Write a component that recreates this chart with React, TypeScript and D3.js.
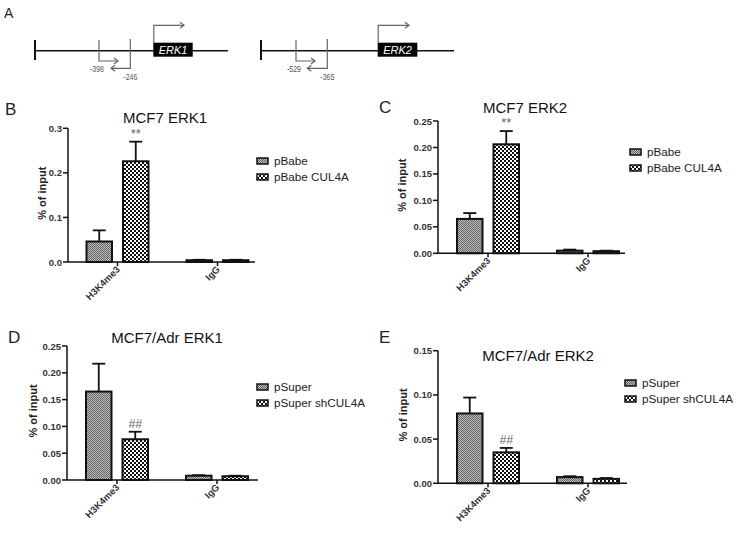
import React from "react";
import * as d3 from "d3";

// ---------- Data ----------
const categories = ["H3K4me3", "IgG"];

const genes = ["ERK1", "ERK2"];
const fwdPrimerLabels = ["-398", "-529"];
const revPrimerLabels = ["-246", "-365"];

const titles = ["MCF7 ERK1", "MCF7 ERK2", "MCF7/Adr ERK1", "MCF7/Adr ERK2"];
const letters = ["B", "C", "D", "E"];
const seriesMCF7 = ["pBabe", "pBabe CUL4A"];
const seriesAdr = ["pSuper", "pSuper shCUL4A"];

// panel B
const bCtrl = [0.046, 0.004];
const bCtrlErr = [0.025, 0.001];
const bTreat = [0.226, 0.004];
const bTreatErr = [0.044, 0.001];
const bTicks = [0, 0.1, 0.2, 0.3];
// panel C
const cCtrl = [0.065, 0.005];
const cCtrlErr = [0.011, 0.002];
const cTreat = [0.206, 0.004];
const cTreatErr = [0.025, 0.001];
const cTicks = [0, 0.05, 0.1, 0.15, 0.2, 0.25];
// panel D
const dCtrl = [0.165, 0.008];
const dCtrlErr = [0.052, 0.001];
const dTreat = [0.076, 0.007];
const dTreatErr = [0.014, 0.001];
const dTicks = [0, 0.05, 0.1, 0.15, 0.2, 0.25];
// panel E
const eCtrl = [0.079, 0.007];
const eCtrlErr = [0.018, 0.001];
const eTreat = [0.035, 0.005];
const eTreatErr = [0.005, 0.001];
const eTicks = [0, 0.05, 0.1, 0.15];

const marks = ["**", "**", "##", "##"];

// ---------- Layout ----------
const panels = [
  { series: seriesMCF7, ctrl: bCtrl, ctrlErr: bCtrlErr, treat: bTreat, treatErr: bTreatErr, ticks: bTicks, fmt: ".1f",
    ax: 68, y0: 262, yTop: 128.3, xr: 255, c0: 117.5, c1: 217.5, ylab: 46,
    title: { x: 165, y: 123 }, letter: { x: 5, y: 115 }, legend: { x: 257, y: 161 } },
  { series: seriesMCF7, ctrl: cCtrl, ctrlErr: cCtrlErr, treat: cTreat, treatErr: cTreatErr, ticks: cTicks, fmt: ".2f",
    ax: 438, y0: 253.3, yTop: 121, xr: 625, c0: 488, c1: 588, ylab: 406,
    title: { x: 525, y: 113 }, letter: { x: 379, y: 113 }, legend: { x: 630, y: 152 } },
  { series: seriesAdr, ctrl: dCtrl, ctrlErr: dCtrlErr, treat: dTreat, treatErr: dTreatErr, ticks: dTicks, fmt: ".2f",
    ax: 67, y0: 480, yTop: 346, xr: 258, c0: 117, c1: 217, ylab: 37,
    title: { x: 167, y: 343 }, letter: { x: 8, y: 343 }, legend: { x: 257, y: 387 } },
  { series: seriesAdr, ctrl: eCtrl, ctrlErr: eCtrlErr, treat: eTreat, treatErr: eTreatErr, ticks: eTicks, fmt: ".2f",
    ax: 438, y0: 483.3, yTop: 350.7, xr: 627, c0: 488, c1: 588, ylab: 407,
    title: { x: 538, y: 361 }, letter: { x: 379, y: 343 }, legend: { x: 625, y: 383 } },
];

const geneLayouts = [
  { x0: 35, x1: 228, box0: 153.3, box1: 192.7, tssEnd: 184, f: 99, fEnd: 118, r: 130.3, rEnd: 111 },
  { x0: 261, x1: 454, box0: 377.7, box1: 417.3, tssEnd: 409, f: 296, fEnd: 315, r: 327.3, rEnd: 307.3 },
];

const FONT = "'Liberation Sans', Arial, sans-serif";

function Arrowhead({ x, y, dir }: { x: number; y: number; dir: number }) {
  return (
    <path d={`M${x - dir * 4},${y - 3} L${x},${y} L${x - dir * 4},${y + 3}`} fill="none" stroke="#666" strokeWidth={1.2} />
  );
}

function PanelA() {
  const lineY = 50.7;
  return (
    <g>
      <text x={4} y={18} fontSize={14} fontFamily={FONT} fill="#222">A</text>
      {genes.map((g, i) => {
        const L = geneLayouts[i];
        return (
          <g key={g}>
            <line x1={L.x0} x2={L.x1} y1={lineY} y2={lineY} stroke="#111" strokeWidth={1.5} />
            <line x1={L.x0} x2={L.x0} y1={40} y2={60} stroke="#111" strokeWidth={2} />
            <rect x={L.box0} y={42.7} width={L.box1 - L.box0} height={14} fill="#000" />
            <text x={(L.box0 + L.box1) / 2} y={53.5} textAnchor="middle" fontSize={11} fontStyle="italic" fontFamily={FONT} fill="#fff">{g}</text>
            <path d={`M${L.box0 + 0.5},42.7 V25.3 H${L.tssEnd}`} fill="none" stroke="#666" strokeWidth={1.2} />
            <Arrowhead x={L.tssEnd} y={25.3} dir={1} />
            <path d={`M${L.f},40 V61 H${L.fEnd}`} fill="none" stroke="#666" strokeWidth={1.2} />
            <Arrowhead x={L.fEnd} y={61} dir={1} />
            <path d={`M${L.r},39 V68.3 H${L.rEnd}`} fill="none" stroke="#666" strokeWidth={1.2} />
            <Arrowhead x={L.rEnd} y={68.3} dir={-1} />
            <text x={L.f - 2} y={72} textAnchor="middle" fontSize={9} fontFamily={FONT} fill="#555" textLength={14} lengthAdjust="spacingAndGlyphs">{fwdPrimerLabels[i]}</text>
            <text x={L.r} y={80} textAnchor="middle" fontSize={9} fontFamily={FONT} fill="#555" textLength={14} lengthAdjust="spacingAndGlyphs">{revPrimerLabels[i]}</text>
          </g>
        );
      })}
    </g>
  );
}

function BarPanel({ p, idx }: { p: any; idx: number }) {
  const maxV = p.ticks[p.ticks.length - 1];
  const y = d3.scaleLinear().domain([0, maxV]).range([p.y0, p.yTop]);
  const x = d3.scalePoint<string>().domain(categories).range([p.c0, p.c1]);
  const bw = 25.5;
  const gap = 11;
  const fmt = d3.format(p.fmt);
  const fills = ["url(#fine)", "url(#check)"];
  const series = [
    { vals: p.ctrl, errs: p.ctrlErr, off: -gap / 2 - bw },
    { vals: p.treat, errs: p.treatErr, off: gap / 2 },
  ];
  const midY = (p.y0 + p.yTop) / 2 - 2;
  return (
    <g fontFamily={FONT}>
      <text x={p.letter.x} y={p.letter.y} fontSize={17} fill="#222">{letters[idx]}</text>
      <text x={p.title.x} y={p.title.y} fontSize={15} textAnchor="middle" fill="#111">{titles[idx]}</text>
      {/* y axis */}
      <line x1={p.ax} x2={p.ax} y1={p.yTop} y2={p.y0} stroke="#111" strokeWidth={1.5} />
      {p.ticks.map((t: number) => (
        <g key={t}>
          <line x1={p.ax - 5} x2={p.ax} y1={y(t)} y2={y(t)} stroke="#111" strokeWidth={1.5} />
          <text x={p.ax - 6} y={y(t) + 3.5} fontSize={9.5} fontWeight="bold" textAnchor="end" fill="#333">{fmt(t)}</text>
        </g>
      ))}
      <text transform={`translate(${p.ylab},${midY}) rotate(-90)`} textAnchor="middle" fontSize={11} fontWeight="bold" fill="#222">% of input</text>
      {/* bars */}
      {series.map((s, si) =>
        categories.map((c, ci) => {
          const bx = (x(c) as number) + s.off;
          const top = y(s.vals[ci]);
          const et = y(s.vals[ci] + s.errs[ci]);
          const cx = bx + bw / 2;
          return (
            <g key={`${si}-${ci}`}>
              <line x1={cx} x2={cx} y1={top} y2={et} stroke="#111" strokeWidth={1.8} />
              <line x1={cx - 6.5} x2={cx + 6.5} y1={et} y2={et} stroke="#111" strokeWidth={1.8} />
              <rect x={bx} y={top} width={bw} height={p.y0 - top} fill={fills[si]} stroke="#111" strokeWidth={2} />
            </g>
          );
        })
      )}
      {/* significance mark */}
      {(() => {
        const c = categories[0];
        const cx = (x(c) as number) + gap / 2 + bw / 2;
        const et = y(p.treat[0] + p.treatErr[0]);
        return (
          <text x={cx} y={et - 4} textAnchor="middle" fontSize={marks[idx] === "**" ? 13 : 12} fill="#666" fontStyle={marks[idx] === "##" ? "italic" : "normal"}>{marks[idx]}</text>
        );
      })()}
      {/* x axis */}
      <line x1={p.ax} x2={p.xr} y1={p.y0} y2={p.y0} stroke="#111" strokeWidth={1.5} />
      {categories.map((c) => (
        <g key={c}>
          <line x1={x(c) as number} x2={x(c) as number} y1={p.y0} y2={p.y0 + 4} stroke="#111" strokeWidth={1.5} />
          <text transform={`translate(${(x(c) as number) + 3},${p.y0 + 8}) rotate(-45)`} textAnchor="end" fontSize={9.5} fontWeight="bold" fill="#333">{c}</text>
        </g>
      ))}
      {/* legend */}
      {p.series.map((s: string, i: number) => (
        <g key={s} transform={`translate(${p.legend.x},${p.legend.y + i * 16})`}>
          <rect x={0} y={-3} width={11} height={6} fill={fills[i]} stroke="#111" strokeWidth={1.5} />
          <text x={17} y={4} fontSize={11.7} fill="#222">{s}</text>
        </g>
      ))}
    </g>
  );
}

export default function App() {
  return (
    <svg width={736} height={533} style={{ position: "absolute", left: 0, top: 0, background: "#fff" }}>
      <defs>
        <pattern id="fine" width={2} height={2} patternUnits="userSpaceOnUse">
          <rect width={2} height={2} fill="#bcbcbc" />
          <rect x={0} y={0} width={1} height={1} fill="#666" />
          <rect x={1} y={1} width={1} height={1} fill="#666" />
        </pattern>
        <pattern id="check" width={4} height={4} patternUnits="userSpaceOnUse">
          <rect width={4} height={4} fill="#fff" />
          <rect x={0} y={0} width={2} height={2} fill="#111" />
          <rect x={2} y={2} width={2} height={2} fill="#111" />
        </pattern>
      </defs>
      <rect width={736} height={533} fill="#fff" />
      <PanelA />
      {panels.map((p, i) => (
        <BarPanel key={i} p={p} idx={i} />
      ))}
    </svg>
  );
}
